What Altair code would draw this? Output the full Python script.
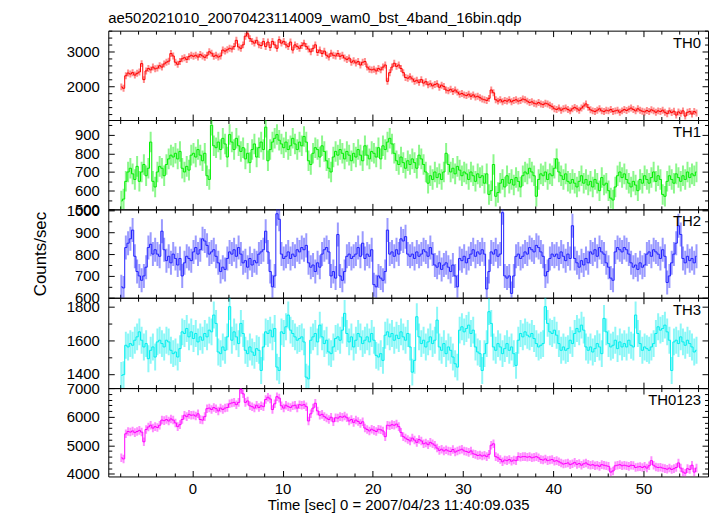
import numpy as np
import pandas as pd
import altair as alt

FONT = "Liberation Sans"
TITLE = "ae502021010_20070423114009_wam0_bst_4band_16bin.qdp"
X_TITLE = "Time [sec] 0 = 2007/04/23 11:40:09.035"
Y_TITLE = "Counts/sec"
PANELS = ["TH0", "TH1", "TH2", "TH3", "TH0123"]
COLORS = ["#ff0000", "#00ee00", "#2020ff", "#00eeee", "#ff00ff"]
T_START = -7.875
T_STEP = 0.25

TH0 = [
    1990, 1950, 2310, 2390, 2360, 2400, 2330, 2380, 2420, 2660, 2200, 2450, 2520, 2480, 2560, 2510,
    2530, 2600, 2560, 2650, 2700, 2730, 2950, 2880, 2700, 2640, 2720, 2800, 2830, 2780, 2860, 2900,
    2870, 2900, 2850, 2920, 2880, 2840, 2900, 3000, 2960, 2870, 2900, 2850, 2880, 3050, 3020, 3060,
    3100, 3080, 3150, 3330, 3140, 3100, 3200, 3450, 3520, 3380, 3300, 3250, 3330, 3200, 3180, 3300,
    3150, 3280, 3120, 3300, 3200, 3100, 3350, 3250, 3300, 3200, 3150, 3280, 3050, 3200, 3150, 3100,
    3180, 3250, 3150, 3080, 3000, 3100, 3200, 2980, 3050, 2950, 3020, 2900, 2850, 2960, 2900, 2880,
    2950, 2870, 2900, 2820, 2780, 2820, 2700, 2740, 2680, 2720, 2620, 2700, 2720, 2560, 2500, 2480,
    2500, 2450, 2520, 2480, 2560, 2620, 2150, 2400, 2560, 2670, 2580, 2620, 2520, 2400, 2260, 2240,
    2280, 2220, 2150, 2180, 2120, 2200, 2100, 2140, 2050, 2080, 2020, 2060, 2080, 1980, 2040, 2000,
    1900, 1880, 1920, 1860, 1900, 1840, 1780, 1800, 1760, 1740, 1780, 1720, 1760, 1700, 1720, 1680,
    1640, 1620, 1600, 1660, 1900, 1820, 1620, 1580, 1620, 1560, 1600, 1580, 1620, 1560, 1600, 1620,
    1580, 1600, 1640, 1620, 1580, 1540, 1560, 1520, 1500, 1540, 1500, 1480, 1520, 1500, 1460, 1420,
    1360, 1340, 1380, 1320, 1360, 1380, 1340, 1300, 1360, 1400, 1360, 1320, 1380, 1440, 1500, 1400,
    1330, 1300, 1280, 1320, 1360, 1300, 1280, 1320, 1300, 1340, 1280, 1300, 1320, 1260, 1300, 1340,
    1310, 1350, 1380, 1340, 1300, 1360, 1320, 1290, 1270, 1310, 1280, 1330, 1300, 1260, 1300, 1280,
    1320, 1260, 1220, 1300, 1250, 1290, 1180, 1270, 1230, 1300, 1150, 1260, 1280, 1210, 1280, 1240,
]
TH1 = [
    545, 555, 650, 700, 720, 690, 660, 730, 650, 700, 740, 680, 720, 860, 650, 620,
    700, 730, 720, 680, 740, 770, 790, 780, 800, 770, 810, 720, 700, 730, 710, 790,
    800, 780, 820, 790, 760, 800, 680, 660, 950, 840, 830, 860, 820, 880, 850, 780,
    900, 860, 820, 880, 840, 810, 830, 770, 800, 750, 820, 850, 780, 830, 860, 820,
    940, 760, 820, 860, 880, 900, 870, 850, 830, 860, 820, 840, 880, 850, 820, 860,
    840, 890, 860, 760, 740, 800, 830, 820, 780, 840, 810, 760, 720, 700, 780, 810,
    790, 820, 800, 770, 810, 790, 760, 800, 780, 820, 790, 760, 840, 790, 770, 810,
    800, 780, 830, 770, 840, 820, 860, 880, 850, 800, 760, 740, 780, 750, 720, 760,
    740, 770, 750, 720, 790, 770, 740, 700, 640, 680, 660, 700, 670, 690, 660, 700,
    800, 740, 700, 720, 690, 730, 710, 680, 700, 690, 660, 700, 680, 650, 690, 670,
    680, 640, 690, 580, 600, 740, 570, 590, 640, 660, 620, 680, 640, 660, 630, 670,
    650, 620, 680, 700, 690, 720, 700, 680, 570, 660, 690, 680, 700, 660, 690, 680,
    720, 770, 700, 680, 660, 690, 650, 640, 660, 640, 620, 650, 680, 640, 660, 630,
    650, 620, 660, 640, 600, 670, 630, 640, 600, 560, 550, 620, 680, 700, 670, 690,
    660, 640, 620, 650, 630, 600, 660, 640, 680, 660, 640, 670, 700, 650, 680, 660,
    580, 570, 650, 680, 660, 640, 690, 670, 650, 680, 660, 700, 670, 690, 680, 700,
]
TH2 = [
    650, 645, 830, 850, 870, 910, 790, 720, 700, 680, 700, 740, 830, 845, 800, 820,
    800, 790, 905, 820, 770, 790, 760, 800, 780, 750, 780, 700, 760, 790, 780, 770,
    810, 830, 800, 820, 870, 860, 840, 800, 810, 820, 790, 760, 720, 740, 730, 780,
    810, 800, 820, 790, 830, 800, 760, 770, 740, 780, 750, 770, 760, 800, 810, 820,
    905, 810, 720, 650, 700, 985, 960, 800, 780, 790, 810, 780, 800, 790, 820, 810,
    830, 820, 840, 760, 740, 750, 720, 760, 740, 800, 820, 830, 810, 700, 720, 690,
    890, 700, 680, 720, 790, 800, 780, 790, 800, 830, 790, 850, 780, 800, 790, 820,
    660, 650, 700, 690, 680, 720, 910, 800, 810, 790, 820, 800, 870, 860, 880, 800,
    790, 800, 780, 810, 790, 800, 820, 810, 790, 830, 800, 750, 740, 760, 730, 750,
    760, 740, 720, 750, 700, 650, 780, 770, 790, 760, 780, 800, 820, 790, 810, 800,
    820, 800, 640, 720, 810, 800, 820, 790, 800, 990, 700, 690, 700, 620, 700, 790,
    800, 780, 790, 810, 800, 830, 820, 810, 840, 830, 810, 790, 700, 720, 780, 800,
    790, 800, 780, 810, 790, 770, 800, 780, 930, 780, 760, 740, 770, 750, 780, 760,
    810, 800, 820, 790, 830, 810, 800, 760, 740, 690, 680, 810, 830, 820, 810, 830,
    820, 800, 760, 740, 750, 730, 760, 740, 750, 800, 810, 790, 820, 810, 800, 780,
    820, 790, 670, 700, 760, 800, 850, 930, 890, 780, 760, 790, 770, 780, 760, 790,
]
TH3 = [
    1390, 1395, 1570, 1560, 1580, 1570, 1600, 1620, 1650, 1600, 1560, 1580, 1490, 1540, 1560, 1500,
    1590, 1600, 1580, 1560, 1600, 1590, 1540, 1520, 1530, 1500, 1550, 1650, 1640, 1670, 1620, 1650,
    1610, 1640, 1590, 1620, 1600, 1640, 1620, 1660, 1650, 1750, 1700, 1530, 1520, 1560, 1540, 1620,
    1800, 1600, 1650, 1620, 1580, 1700, 1640, 1540, 1520, 1560, 1530, 1510, 1550, 1540, 1420, 1560,
    1650, 1640, 1660, 1620, 1670, 1440, 1420, 1650, 1640, 1680, 1750, 1660, 1640, 1620, 1600, 1610,
    1620, 1590, 1380, 1370, 1600, 1620, 1640, 1590, 1690, 1620, 1580, 1600, 1530, 1520, 1560, 1610,
    1620, 1600, 1660, 1760, 1640, 1590, 1620, 1560, 1600, 1640, 1620, 1580, 1600, 1620, 1590, 1640,
    1600, 1510, 1500, 1520, 1480, 1630, 1650, 1620, 1640, 1600, 1630, 1610, 1650, 1620, 1600, 1640,
    1560, 1410, 1480, 1740, 1620, 1580, 1600, 1560, 1590, 1620, 1580, 1600, 1720, 1560, 1540, 1580,
    1520, 1560, 1540, 1500, 1460, 1440, 1660, 1680, 1650, 1670, 1690, 1640, 1660, 1560, 1530, 1520,
    1420, 1520, 1580, 1770, 1700, 1560, 1540, 1580, 1560, 1520, 1550, 1580, 1540, 1560, 1520, 1450,
    1600, 1640, 1620, 1650, 1630, 1620, 1640, 1610, 1580, 1560, 1570, 1580, 1800, 1700, 1650, 1640,
    1660, 1630, 1580, 1540, 1560, 1540, 1550, 1600, 1580, 1640, 1670, 1650, 1690, 1660, 1560, 1540,
    1560, 1530, 1550, 1580, 1560, 1520, 1730, 1650, 1580, 1560, 1570, 1600, 1550, 1590, 1560, 1580,
    1560, 1600, 1570, 1560, 1750, 1640, 1580, 1540, 1560, 1550, 1540, 1560, 1580, 1640, 1680, 1660,
    1670, 1690, 1650, 1600, 1420, 1590, 1600, 1580, 1620, 1590, 1570, 1600, 1580, 1560, 1530, 1540,
]
TH0123 = [
    4560, 4520, 5400, 5480, 5460, 5500, 5440, 5480, 5520, 5460, 5120, 5550, 5640, 5700, 5600, 5650,
    5620, 5700, 5880, 5860, 5900, 5850, 5920, 5880, 5780, 5650, 5720, 5900, 6050, 6000, 6080, 6050,
    6060, 6020, 6100, 5900, 5880, 6000, 6280, 6300, 6250, 6320, 6280, 6200, 6300, 6250, 6300, 6320,
    6450, 6480, 6500, 6420, 6500, 6950, 6800, 6500, 6550, 6380, 6350, 6300, 6400, 6320, 6380, 6350,
    6600, 6680, 6620, 6250, 6450, 6700, 6650, 6380, 6300, 6400, 6350, 6320, 6380, 6400, 6300, 6420,
    6400, 6420, 6350, 5850, 6100, 6300, 6470, 6200, 6050, 6080, 6000, 5950, 5900, 5980, 5820, 5960,
    5950, 6000, 5980, 6020, 5960, 5850, 5900, 5800, 5880, 5830, 5760, 5820, 5600, 5550, 5500, 5560,
    5520, 5480, 5560, 5540, 5500, 5300, 5700, 5680, 5720, 5700, 5740, 5650, 5450, 5300, 5250, 5200,
    5150, 5250, 5180, 5100, 5200, 5150, 5050, 5080, 5020, 5100, 5050, 5000, 4900, 4820, 4860, 4800,
    4840, 4800, 4780, 4850, 4760, 4800, 4830, 4860, 4800, 4780, 4750, 4800, 4700, 4680, 4640, 4660,
    4620, 4650, 4600, 4680, 5000, 5050, 4600, 4560, 4500, 4420, 4480, 4460, 4500, 4440, 4480, 4460,
    4600, 4580, 4600, 4600, 4580, 4600, 4560, 4580, 4600, 4560, 4500, 4480, 4520, 4460, 4480, 4500,
    4440, 4460, 4420, 4380, 4340, 4360, 4380, 4320, 4350, 4400, 4330, 4360, 4300, 4350, 4380, 4330,
    4300, 4320, 4280, 4300, 4260, 4320, 4300, 4280, 4260, 4060, 4100, 4280, 4300, 4320, 4280, 4300,
    4280, 4260, 4300, 4290, 4220, 4240, 4250, 4220, 4260, 4200, 4280, 4460, 4300, 4240, 4220, 4230,
    4200, 4180, 4160, 4200, 4150, 4180, 4220, 4380, 4200, 4060, 4020, 4180, 4150, 4300, 4060, 4200,
]
SERIES = [TH0, TH1, TH2, TH3, TH0123]
ERRORS = [100, 55, 55, 80, 150]

X_DOMAIN = [-9.32, 57.15]
X_MAJOR_STEP = 10
X_MINOR_STEP = 2
Y_DOMAINS = [[1037, 3609], [500, 978], [600, 1005], [1315, 1853], [3906, 7000]]
Y_MAJOR_STEP = [1000, 100, 100, 200, 1000]
Y_MINOR_STEP = [200, 50, 50, 100, 200]
HEIGHTS = [90, 90, 89, 91, 89]
WIDTH = 604
TICK = 6
MINOR = 3.5


def tick_values(lo, hi, step):
    start = np.ceil(lo / step) * step
    return [float(v) for v in np.arange(start, hi + 1e-9, step)]


def make_axis(orient, values, major_step, labels, title=None, **extra):
    test = f"abs(datum.value % {major_step}) > 1e-6"
    return alt.Axis(
        orient=orient,
        values=values,
        offset=-TICK,
        tickSize=TICK,
        tickColor="black",
        tickWidth=1,
        tickDash={"condition": {"test": test, "value": [0, TICK - MINOR, MINOR, 40]}, "value": []},
        domain=False,
        grid=False,
        labels=labels,
        labelExpr=f"{test} ? '' : datum.label",
        format="d",
        labelOverlap=False,
        labelFont=FONT,
        labelFontSize=15,
        labelColor="black",
        title=title,
        titleFont=FONT,
        titleFontWeight="normal",
        titleColor="black",
        **extra,
    )


xticks = tick_values(X_DOMAIN[0], X_DOMAIN[1], X_MINOR_STEP)
xscale = alt.Scale(domain=X_DOMAIN, nice=False, zero=False)

panels = []
for i, name in enumerate(PANELS):
    vals = np.array(SERIES[i], dtype=float)
    t = T_START + T_STEP * np.arange(len(vals))
    df = pd.DataFrame({"t": t, "v": vals, "lo": vals - ERRORS[i], "hi": vals + ERRORS[i]})
    yscale = alt.Scale(domain=Y_DOMAINS[i], nice=False, zero=False)
    yticks = tick_values(Y_DOMAINS[i][0], Y_DOMAINS[i][1], Y_MINOR_STEP[i])
    last = i == len(PANELS) - 1

    if last:
        xb = make_axis("bottom", xticks, X_MAJOR_STEP, True, X_TITLE, labelPadding=5,
                       titlePadding=1, titleX=292, titleFontSize=15)
    else:
        xb = make_axis("bottom", xticks, X_MAJOR_STEP, False)
    xt = make_axis("top", xticks, X_MAJOR_STEP, False)
    if name == "TH2":
        yl = make_axis("left", yticks, Y_MAJOR_STEP[i], True, Y_TITLE, labelPadding=9,
                       titlePadding=17, titleFontSize=17)
    else:
        yl = make_axis("left", yticks, Y_MAJOR_STEP[i], True, labelPadding=9)
    yr = make_axis("right", yticks, Y_MAJOR_STEP[i], False)

    base = alt.Chart(df)
    bars = base.mark_rule(clip=True, strokeWidth=2, opacity=0.45, color=COLORS[i]).encode(
        x=alt.X("t:Q", scale=xscale, axis=xb),
        y=alt.Y("lo:Q", scale=yscale, axis=yl),
        y2="hi:Q",
    )
    line = base.mark_line(clip=True, interpolate="step", strokeWidth=1, color=COLORS[i]).encode(
        x=alt.X("t:Q", scale=xscale, axis=xt),
        y=alt.Y("v:Q", scale=yscale, axis=yr),
    )
    label = alt.Chart(pd.DataFrame({"label": [name]})).mark_text(
        align="right", baseline="alphabetic", font=FONT, fontSize=15, color="black"
    ).encode(text="label:N", x=alt.value(WIDTH - 7), y=alt.value(17))
    layers = [bars, line, label]
    if i == 0:
        ttl = alt.Chart(pd.DataFrame({"label": [TITLE]})).mark_text(
            align="left", baseline="alphabetic", font=FONT, fontSize=15, color="black"
        ).encode(text="label:N", x=alt.value(0), y=alt.value(-8))
        layers.append(ttl)
    p = alt.layer(*layers).properties(width=WIDTH, height=HEIGHTS[i]).resolve_axis(x="independent", y="independent")
    panels.append(p)

chart = alt.vconcat(*panels, spacing=0, bounds="flush").properties(
    padding={"left": 23, "top": 0, "right": 0, "bottom": 0}
).configure_view(stroke="black", strokeWidth=1)

chart.save("out.html", embed_options={"renderer": "svg", "actions": False})
